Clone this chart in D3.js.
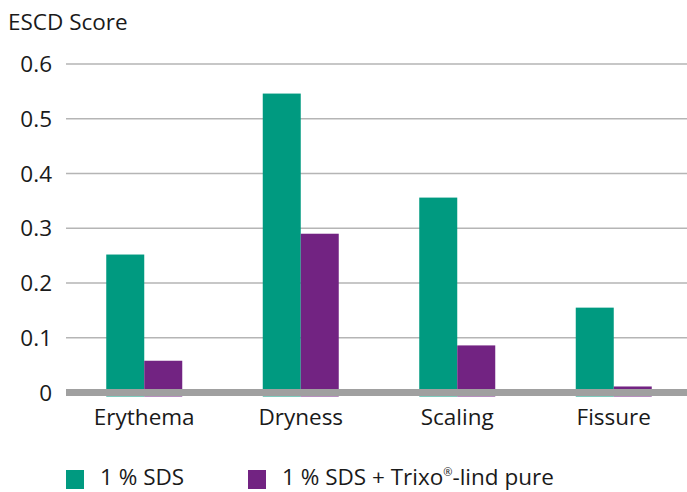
<!DOCTYPE html>
<html>
<head>
<meta charset="utf-8">
<script src="https://cdn.jsdelivr.net/npm/d3@7"></script>
<style>
  body { margin: 0; background: #fff; }
  svg text { font-family: "Open Sans", sans-serif; fill: #1a1a1a; font-size: 22.5px; }
</style>
</head>
<body>
<svg id="chart" width="687" height="492"></svg>
<script>
// data
var categories = ["Erythema", "Dryness", "Scaling", "Fissure"];
var seriesNames = ["1 % SDS", "1 % SDS + Trixo"];
var seriesSuffix = ["", "-lind pure"];
var sds = [0.252, 0.546, 0.356, 0.155];
var sdsTrixo = [0.058, 0.290, 0.086, 0.011];
var yTicks = [0, 0.1, 0.2, 0.3, 0.4, 0.5, 0.6];
var colors = ["#009a80", "#722382"];

var svg = d3.select("#chart");
var left = 66, right = 687;

var x0 = d3.scaleBand().domain(categories).range([66, 692]);
var x1 = d3.scaleBand().domain([0, 1]).range([0, 76]);
var y = d3.scaleLinear().domain([0, 0.6]).range([392.5, 64]);

// title
svg.append("text")
  .attr("x", 8).attr("y", 30)
  .text("ESCD Score");

// grid lines + tick labels
var ticks = svg.append("g");
ticks.selectAll("line").data(yTicks.filter(function (d) { return d > 0; }))
  .enter().append("line")
  .attr("x1", left).attr("x2", right)
  .attr("y1", function (d) { return y(d); })
  .attr("y2", function (d) { return y(d); })
  .attr("stroke", "#b5b5b5")
  .attr("stroke-width", 1.5);

ticks.selectAll("text").data(yTicks)
  .enter().append("text")
  .attr("x", 52)
  .attr("y", function (d) { return y(d); })
  .attr("dy", "0.36em")
  .attr("text-anchor", "end")
  .text(function (d) { return d === 0 ? "0" : d3.format(".1f")(d); });

// bars
var rows = categories.map(function (c, i) { return { cat: c, vals: [sds[i], sdsTrixo[i]] }; });
var groups = svg.selectAll("g.group").data(rows)
  .enter().append("g")
  .attr("class", "group")
  .attr("transform", function (d) {
    return "translate(" + (x0(d.cat) + x0.bandwidth() / 2 - 38) + ",0)";
  });

groups.selectAll("rect").data(function (d) { return d.vals; })
  .enter().append("rect")
  .attr("x", function (d, i) { return x1(i); })
  .attr("width", x1.bandwidth())
  .attr("y", function (d) { return y(d); })
  .attr("height", function (d) { return y(0) + 4 - y(d); })
  .attr("fill", function (d, i) { return colors[i]; });

// baseline
svg.append("line")
  .attr("x1", left).attr("x2", right)
  .attr("y1", y(0)).attr("y2", y(0))
  .attr("stroke", "#a0a0a0")
  .attr("stroke-width", 7);

// category labels
svg.selectAll("text.cat").data(categories)
  .enter().append("text")
  .attr("class", "cat")
  .attr("x", function (d) { return x0(d) + x0.bandwidth() / 2; })
  .attr("y", 425)
  .attr("text-anchor", "middle")
  .text(function (d) { return d; });

// legend
var legendX = [66, 248];
var legend = svg.selectAll("g.legend").data(seriesNames)
  .enter().append("g")
  .attr("class", "legend")
  .attr("transform", function (d, i) { return "translate(" + legendX[i] + ",470)"; });

legend.append("rect")
  .attr("width", 18).attr("height", 19)
  .attr("fill", function (d, i) { return colors[i]; });

var lt = legend.append("text")
  .attr("x", 34).attr("y", 15);
lt.append("tspan").text(function (d) { return d; });
lt.filter(function (d, i) { return i === 1; }).append("tspan")
  .attr("dy", -9)
  .style("font-size", "11px")
  .text("\u00ae");
lt.filter(function (d, i) { return i === 1; }).append("tspan")
  .attr("dy", 9)
  .text(function (d, i) { return seriesSuffix[1]; });
</script>
</body>
</html>
